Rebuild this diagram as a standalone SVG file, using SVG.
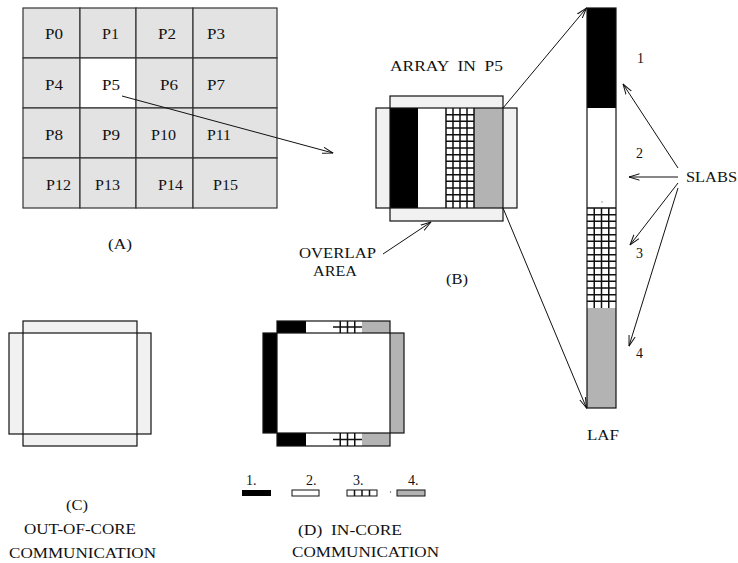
<svg xmlns="http://www.w3.org/2000/svg" width="738" height="563" viewBox="0 0 738 563">
<style>
text{font-family:"Liberation Serif","Times New Roman",serif;font-size:14px;fill:#111}
.cell{fill:#e3e3e3;stroke:#333;stroke-width:1.2}
.ov{fill:#f1f1f1;stroke:none}
.ol{fill:none;stroke:#111;stroke-width:1.2}
.blk{fill:#000}
.wht{fill:#fff}
.gry{fill:#b3b3b3}
.gl{fill:none;stroke:#111;stroke-width:1.5}
.con{fill:none;stroke:#111;stroke-width:1}
</style>
<defs>
<marker id="ah" markerUnits="userSpaceOnUse" markerWidth="11" markerHeight="8" viewBox="0 0 11 8" refX="10.5" refY="4" orient="auto">
<path d="M0,0.8 L10.5,4 L0,7.2" fill="none" stroke="#111" stroke-width="1"/>
</marker>
</defs>
<rect width="738" height="563" fill="#fff"/>

<g id="grid-A">
<rect class="cell" x="23" y="8" width="57" height="50"/>
<rect class="cell" x="80" y="8" width="56" height="50"/>
<rect class="cell" x="136" y="8" width="57" height="50"/>
<rect class="cell" x="193" y="8" width="84" height="50"/>
<rect class="cell" x="23" y="58" width="57" height="50"/>
<rect class="cell" x="80" y="58" width="56" height="50" style="fill:#fff"/>
<rect class="cell" x="136" y="58" width="57" height="50"/>
<rect class="cell" x="193" y="58" width="84" height="50"/>
<rect class="cell" x="23" y="108" width="57" height="50"/>
<rect class="cell" x="80" y="108" width="56" height="50"/>
<rect class="cell" x="136" y="108" width="57" height="50"/>
<rect class="cell" x="193" y="108" width="84" height="50"/>
<rect class="cell" x="23" y="158" width="57" height="50"/>
<rect class="cell" x="80" y="158" width="56" height="50"/>
<rect class="cell" x="136" y="158" width="57" height="50"/>
<rect class="cell" x="193" y="158" width="84" height="50"/>
<text x="45" y="39" textLength="18" lengthAdjust="spacingAndGlyphs">P0</text>
<text x="102" y="39" textLength="17" lengthAdjust="spacingAndGlyphs">P1</text>
<text x="158" y="39" textLength="18" lengthAdjust="spacingAndGlyphs">P2</text>
<text x="207" y="39" textLength="18" lengthAdjust="spacingAndGlyphs">P3</text>
<text x="45" y="90" textLength="18" lengthAdjust="spacingAndGlyphs">P4</text>
<text x="102" y="90" textLength="18" lengthAdjust="spacingAndGlyphs">P5</text>
<text x="160" y="90" textLength="18" lengthAdjust="spacingAndGlyphs">P6</text>
<text x="207" y="90" textLength="18" lengthAdjust="spacingAndGlyphs">P7</text>
<text x="45" y="140" textLength="18" lengthAdjust="spacingAndGlyphs">P8</text>
<text x="102" y="140" textLength="18" lengthAdjust="spacingAndGlyphs">P9</text>
<text x="151" y="140" textLength="25" lengthAdjust="spacingAndGlyphs">P10</text>
<text x="207" y="140" textLength="24" lengthAdjust="spacingAndGlyphs">P11</text>
<text x="46" y="190" textLength="25" lengthAdjust="spacingAndGlyphs">P12</text>
<text x="95" y="190" textLength="25" lengthAdjust="spacingAndGlyphs">P13</text>
<text x="158" y="190" textLength="25" lengthAdjust="spacingAndGlyphs">P14</text>
<text x="213" y="190" textLength="25" lengthAdjust="spacingAndGlyphs">P15</text>
<text x="108" y="249" textLength="24" lengthAdjust="spacingAndGlyphs">(A)</text>
</g>

<g id="array-B">
<rect class="ov" x="376" y="108" width="141" height="100"/>
<rect class="ov" x="390" y="96" width="113" height="125"/>
<rect class="blk" x="390" y="108" width="28" height="100"/>
<rect class="wht" x="418" y="108" width="28" height="100"/>
<rect class="wht" x="446" y="108" width="28" height="100"/>
<rect class="gry" x="474" y="108" width="29" height="100"/>
<path class="gl" d="M453,108V208M460,108V208M467,108V208M446,114.67H474M446,121.33H474M446,128H474M446,134.67H474M446,141.33H474M446,148H474M446,154.67H474M446,161.33H474M446,168H474M446,174.67H474M446,181.33H474M446,188H474M446,194.67H474M446,201.33H474M446,108V208M474,108V208"/>
<rect class="ol" x="376" y="108" width="141" height="100"/>
<rect class="ol" x="390" y="96" width="113" height="125"/>
<text x="390" y="71" xml:space="preserve" textLength="113" lengthAdjust="spacingAndGlyphs">ARRAY  IN  P5</text>
<text x="299" y="258" textLength="77" lengthAdjust="spacingAndGlyphs">OVERLAP</text>
<text x="313" y="276" textLength="44" lengthAdjust="spacingAndGlyphs">AREA</text>
<text x="446" y="284" textLength="22" lengthAdjust="spacingAndGlyphs">(B)</text>
</g>

<g id="laf">
<rect class="blk" x="587" y="8" width="29" height="100"/>
<rect class="wht" x="587" y="108" width="29" height="100"/>
<rect class="wht" x="587" y="208" width="29" height="100"/>
<rect class="gry" x="587" y="308" width="29" height="100"/>
<path class="gl" d="M594.25,208V308M601.5,208V308M608.75,208V308M587,208H616M587,214.67H616M587,221.33H616M587,228H616M587,234.67H616M587,241.33H616M587,248H616M587,254.67H616M587,261.33H616M587,268H616M587,274.67H616M587,281.33H616M587,288H616M587,294.67H616M587,301.33H616"/>
<rect class="ol" x="587" y="8" width="29" height="400"/>
<circle cx="602" cy="202" r="0.7" fill="#777"/>
<text x="587" y="440" textLength="32" lengthAdjust="spacingAndGlyphs">LAF</text>
<text x="637" y="63">1</text>
<text x="636" y="158">2</text>
<text x="636" y="258">3</text>
<text x="636" y="358">4</text>
<text x="686" y="182" textLength="51" lengthAdjust="spacingAndGlyphs">SLABS</text>
</g>

<g id="panel-C">
<rect class="ov" x="9" y="333" width="142" height="101"/>
<rect class="ov" x="23" y="321" width="114" height="125"/>
<rect class="wht" x="23" y="333" width="114" height="101"/>
<rect class="ol" x="9" y="333" width="142" height="101"/>
<rect class="ol" x="23" y="321" width="114" height="125"/>
<text x="66" y="510" textLength="22" lengthAdjust="spacingAndGlyphs">(C)</text>
<text x="24" y="534" textLength="112" lengthAdjust="spacingAndGlyphs">OUT-OF-CORE</text>
<text x="9" y="558" textLength="147" lengthAdjust="spacingAndGlyphs">COMMUNICATION</text>
</g>

<g id="panel-D">
<rect class="blk" x="277" y="321" width="29" height="12"/>
<rect class="wht" x="306" y="321" width="27" height="12"/>
<rect class="wht" x="333" y="321" width="29" height="12"/>
<rect class="gry" x="362" y="321" width="28" height="12"/>
<rect class="blk" x="277" y="433" width="29" height="13"/>
<rect class="wht" x="306" y="433" width="27" height="13"/>
<rect class="wht" x="333" y="433" width="29" height="13"/>
<rect class="gry" x="362" y="433" width="28" height="13"/>
<rect class="blk" x="263" y="333" width="14" height="100"/>
<rect class="gry" x="390" y="333" width="14" height="100"/>
<path class="gl" d="M340.25,321V333M347.5,321V333M354.75,321V333M333,327H362M340.25,433V446M347.5,433V446M354.75,433V446M333,439.5H362"/>
<rect class="ol" x="277" y="321" width="113" height="125"/>
<rect class="ol" x="263" y="333" width="141" height="100"/>
<text x="298" y="535" xml:space="preserve" textLength="104" lengthAdjust="spacingAndGlyphs">(D)  IN-CORE</text>
<text x="292" y="557" textLength="147" lengthAdjust="spacingAndGlyphs">COMMUNICATION</text>
</g>

<g id="legend">
<text x="246" y="485">1.</text>
<rect x="242" y="490" width="29" height="6" fill="#000"/>
<text x="306" y="485">2.</text>
<rect x="292" y="490" width="27" height="6" fill="#fff" stroke="#111" stroke-width="1"/>
<text x="353" y="485">3.</text>
<rect x="347" y="490" width="30" height="6" fill="#fff" stroke="#111" stroke-width="1"/>
<path class="gl" d="M354.5,490V496M362,490V496M369.5,490V496"/>
<circle cx="390.5" cy="492" r="0.7" fill="#555"/>
<text x="408" y="485">4.</text>
<rect x="397" y="490" width="28" height="6" fill="#b3b3b3" stroke="#111" stroke-width="1"/>
</g>

<g id="connectors">
<path class="con" d="M122,96 L333,153" marker-end="url(#ah)"/>
<path class="con" d="M503,108 L586.5,8" marker-end="url(#ah)"/>
<path class="con" d="M503,208 L586.5,408" marker-end="url(#ah)"/>
<path class="con" d="M383,254 L431,222" marker-end="url(#ah)"/>
<path class="con" d="M678,168 L623,84" marker-end="url(#ah)"/>
<path class="con" d="M678,177 L629,177" marker-end="url(#ah)"/>
<path class="con" d="M678,183 L630,245" marker-end="url(#ah)"/>
<path class="con" d="M678,188 L629,346" marker-end="url(#ah)"/>
</g>
</svg>
